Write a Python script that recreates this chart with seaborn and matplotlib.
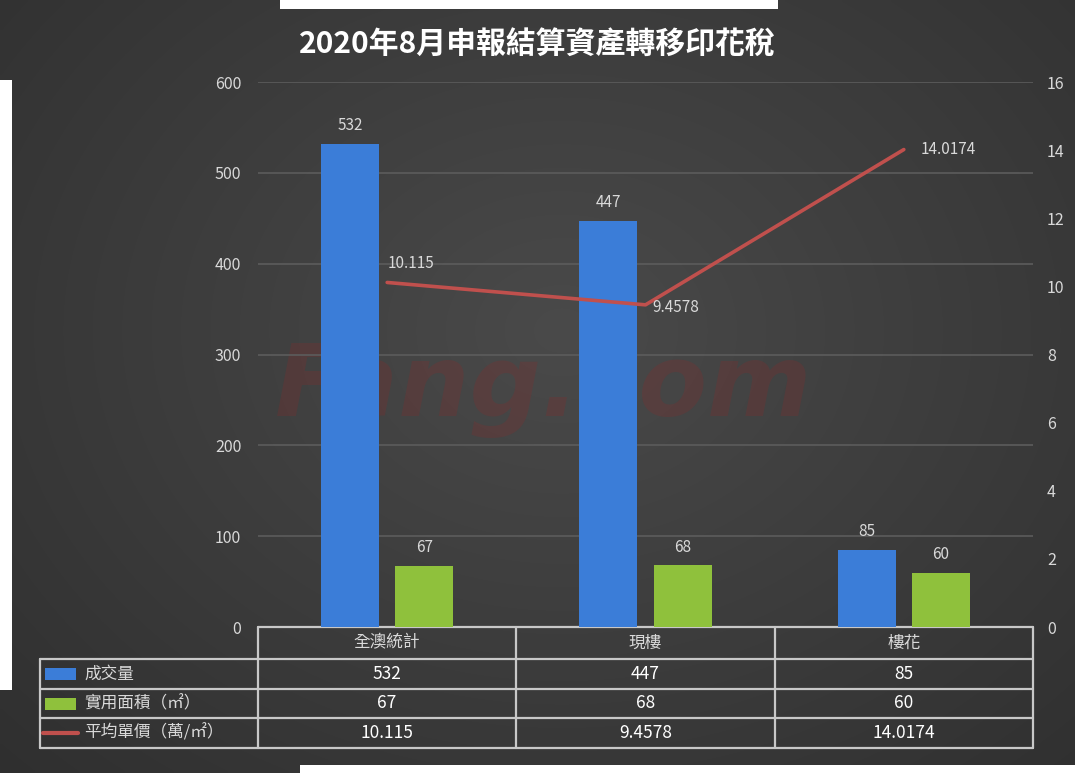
import numpy as np
import pandas as pd
import matplotlib
matplotlib.use("Agg")
import matplotlib.pyplot as plt
from matplotlib.patches import Rectangle
import seaborn as sns

# ---------------- data ----------------
title = "2020年8月申報結算資產轉移印花稅"
categories = ["全澳統計", "現樓", "樓花"]
volume = [532, 447, 85]            # 成交量
area = [67, 68, 60]                # 實用面積（㎡）
price = [10.115, 9.4578, 14.0174]  # 平均單價（萬/㎡）
price_text = ["10.115", "9.4578", "14.0174"]
series_names = ["成交量", "實用面積（㎡）", "平均單價（萬/㎡）"]
left_ticks = [0, 100, 200, 300, 400, 500, 600]
right_ticks = [0, 2, 4, 6, 8, 10, 12, 14, 16]

# ---------------- style ----------------
BLUE = "#3b7dd8"
GREEN = "#8fc13c"
RED = "#c0504d"
TXT = "#d9d9d9"
GRID = "#5c5c5c"
TABLE_LINE = "#c8c8c8"

sns.set_theme(style="dark")
plt.rcParams["font.family"] = ["Noto Sans CJK TC", "DejaVu Sans"]

W, H = 1080, 773
fig = plt.figure(figsize=(W / 100, H / 100), dpi=100)

# background gradient
bg = fig.add_axes([0, 0, 1, 1], zorder=-10)
yy, xx = np.mgrid[0:H:4, 0:W:4]
d = np.sqrt(((xx - 560) / 750.0) ** 2 + ((yy - 330) / 600.0) ** 2)
g = np.clip(0.29 - 0.10 * d, 0.17, 0.31)
bg.imshow(np.dstack([g, g, g]), extent=[0, W, H, 0], aspect="auto", interpolation="bilinear")
bg.set_xlim(0, W)
bg.set_ylim(H, 0)
bg.axis("off")
# white screenshot seams
for (x0, y0, w, h) in [(0, 80, 12, 610), (280, 0, 498, 9), (1075, 0, 5, 773), (300, 765, 780, 8)]:
    bg.add_patch(Rectangle((x0, y0), w, h, facecolor="white", edgecolor="none"))

# watermark
bg.text(275, 390, "Fang.com", fontsize=72, fontweight="bold", style="italic",
        color="#8a2a2a", alpha=0.25, va="center", ha="left", family="DejaVu Sans")

# main axes
L, R, T, B = 258, 1033, 82, 627
ax = fig.add_axes([L / W, 1 - B / H, (R - L) / W, (B - T) / H])
ax.set_facecolor("none")

df = pd.DataFrame({
    "cat": categories * 2,
    "val": volume + area,
    "series": [series_names[0]] * 3 + [series_names[1]] * 3,
})
sns.barplot(data=df, x="cat", y="val", hue="series", order=categories,
            hue_order=series_names[:2], palette=[BLUE, GREEN],
            width=0.577, gap=0.22, ax=ax, legend=False, saturation=1,
            linewidth=0, edgecolor="none")
for cont in ax.containers:
    ax.bar_label(cont, fmt="%d", padding=7, color=TXT, fontsize=11)

ax.set_ylim(0, 600)
ax.set_xlim(-0.5, 2.5)
ax.set_yticks(left_ticks)
ax.set_yticklabels([str(t) for t in left_ticks], color=TXT, fontsize=11.5)
ax.tick_params(axis="y", length=0, pad=12)
ax.set_xticks([])
ax.set_xlabel("")
ax.set_ylabel("")
ax.grid(False)
for t in left_ticks[1:]:
    ax.axhline(t, color=GRID, lw=1.2, zorder=0)
for s in ax.spines.values():
    s.set_visible(False)

ax2 = ax.twinx()
ax2.set_facecolor("none")
sns.lineplot(x=categories, y=price, ax=ax2, color=RED, lw=2.6, sort=False)
ax2.set_ylim(0, 16)
ax2.set_xlim(-0.5, 2.5)
ax2.set_yticks(right_ticks)
ax2.set_yticklabels([str(t) for t in right_ticks], color=TXT, fontsize=11.5)
ax2.tick_params(axis="y", length=0, pad=10)
ax2.grid(False)
for s in ax2.spines.values():
    s.set_visible(False)

label_offsets = [(0, 14), (5, -2), (12, 0)]
for i, (v, txt) in enumerate(zip(price, price_text)):
    dx, dy = label_offsets[i]
    ax2.annotate(txt, (i, v), xytext=(dx, dy), textcoords="offset points",
                 ha="left", va="center", color=TXT, fontsize=11)

# title
fig.text(537 / W, 1 - 45 / H, title, color="white", fontsize=21.5,
         fontweight="bold", ha="center", va="center")

# ---------------- data table ----------------
col_edges = [258, 516, 775, 1033]
row_edges = [627, 659, 689, 718, 748]
lab_left = 40
lw = 1.6
bg.plot([col_edges[0], col_edges[-1]], [row_edges[0]] * 2, color=TABLE_LINE, lw=lw)
for y in row_edges[1:]:
    bg.plot([lab_left, col_edges[-1]], [y, y], color=TABLE_LINE, lw=lw)
for x in col_edges:
    bg.plot([x, x], [row_edges[0], row_edges[-1]], color=TABLE_LINE, lw=lw)
bg.plot([lab_left, lab_left], [row_edges[1], row_edges[-1]], color=TABLE_LINE, lw=lw)

for j, c in enumerate(categories):
    xc = (col_edges[j] + col_edges[j + 1]) / 2
    bg.text(xc, (row_edges[0] + row_edges[1]) / 2, c, color=TXT, fontsize=12,
            ha="center", va="center")

rows = [
    [str(v) for v in volume],
    [str(v) for v in area],
    price_text,
]
colors = [BLUE, GREEN, RED]
for i, (name, vals, col) in enumerate(zip(series_names, rows, colors)):
    yc = (row_edges[i + 1] + row_edges[i + 2]) / 2
    if i < 2:
        bg.add_patch(Rectangle((45, yc - 6), 31, 12, facecolor=col, edgecolor="none"))
    else:
        bg.plot([43, 78], [yc, yc], color=col, lw=3)
    bg.text(84, yc, name, color=TXT, fontsize=12, ha="left", va="center")
    for j, v in enumerate(vals):
        xc = (col_edges[j] + col_edges[j + 1]) / 2
        bg.text(xc, yc, v, color="white", fontsize=12.5, ha="center", va="center")

bg.set_xlim(0, W)
bg.set_ylim(H, 0)

fig.savefig("out.png", dpi=100)
